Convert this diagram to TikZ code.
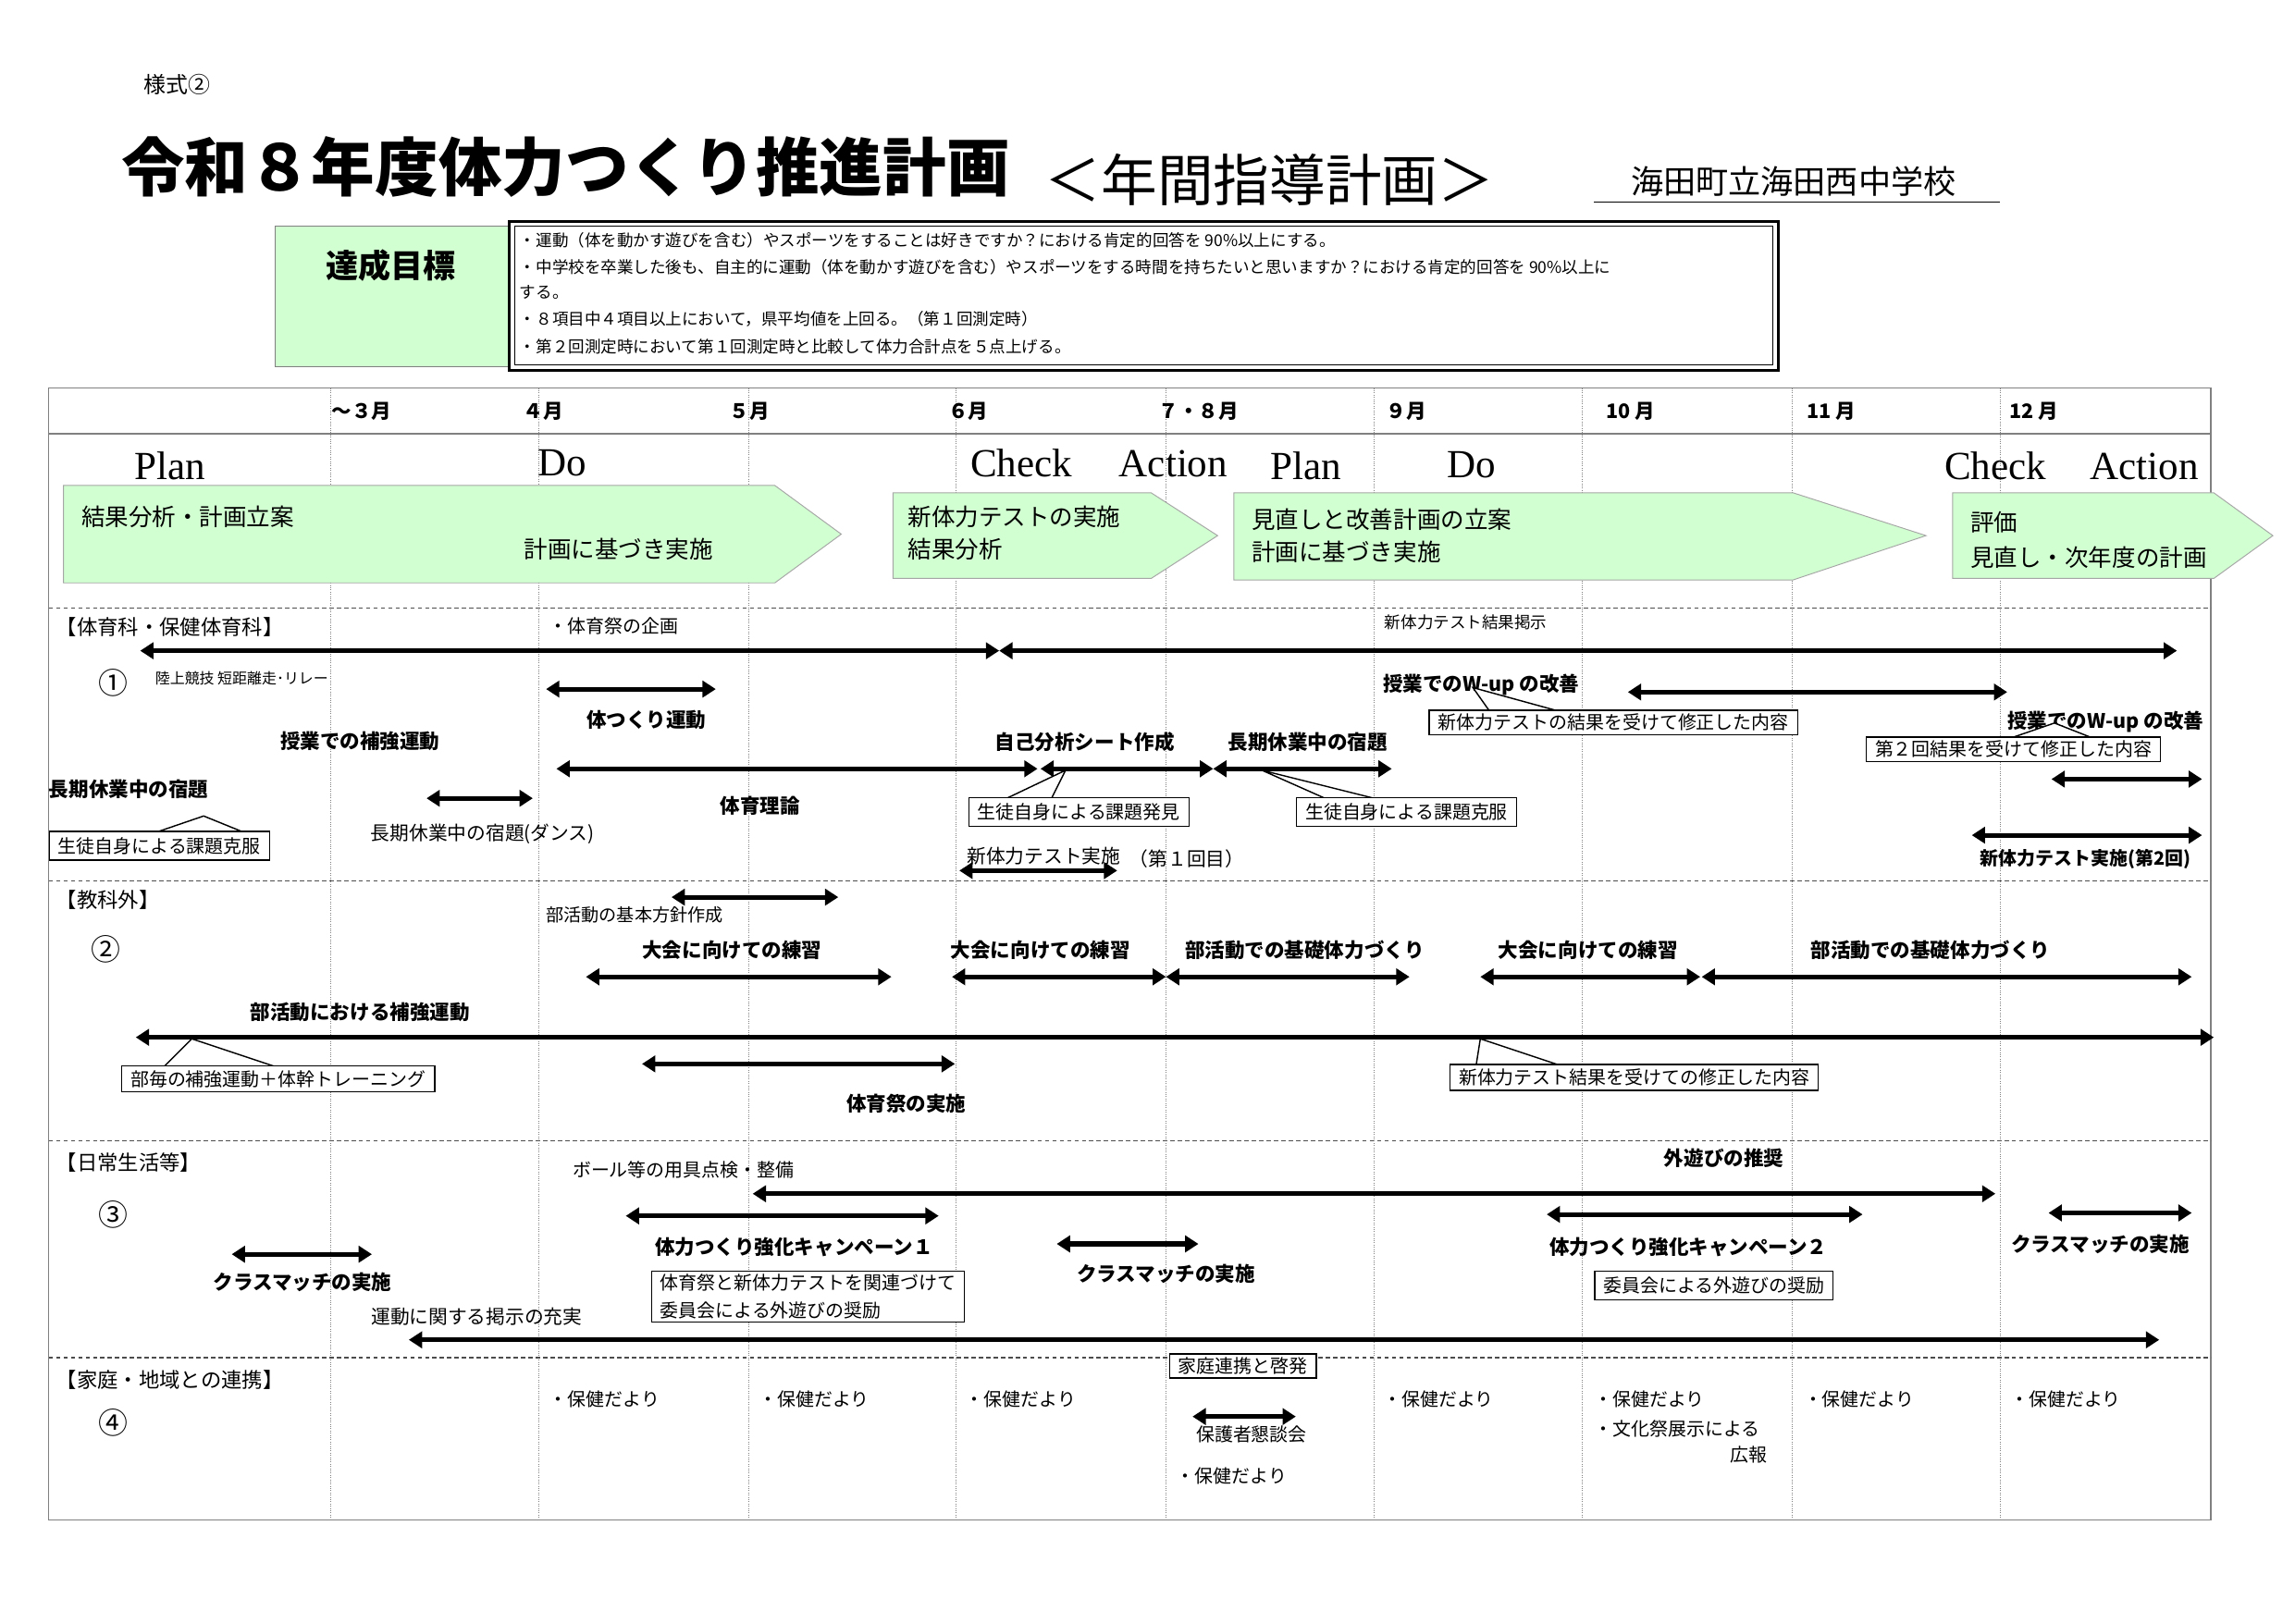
\documentclass[tikz,border=0pt]{standalone}
\usepackage{fontspec}
\setmainfont{Noto Sans CJK JP}
\newfontfamily\serifen{Liberation Serif}
\usetikzlibrary{arrows.meta}
\tikzset{
  tla/.style={line width=3.2pt,{Triangle[width=11pt,length=9pt]}-{Triangle[width=11pt,length=9pt]}},
  garrow/.style={draw=gray!70,fill=green!18,line width=0.6pt},
  sm/.style={font=\fontsize{11}{13}\selectfont,inner sep=0pt},
  md/.style={font=\fontsize{14}{16}\selectfont,inner sep=0pt},
  mdb/.style={font=\fontsize{13.5}{16}\selectfont\bfseries,inner sep=0pt},
  pdca/.style={font=\fontsize{27}{30}\selectfont\serifen,inner sep=0pt},
  arrtxt/.style={font=\fontsize{16}{18}\selectfont,inner sep=0pt,anchor=west},
  cbox/.style={draw,fill=white,line width=0.9pt,font=\fontsize{12.5}{14}\selectfont,inner xsep=6pt,inner ysep=4pt,anchor=north west,text depth=1pt},
  grid/.style={gray,densely dotted,line width=0.5pt},
  sect/.style={black!70,densely dashed,line width=0.8pt},
}
\newcommand{\tlar}[3]{\draw[tla] (#1,#3) -- (#2,#3);}
\newcommand{\ptr}[5]{\draw[fill=white,line width=0.9pt] (#1,#3) -- (#4,#5) -- (#2,#3);}
\begin{document}
\begin{tikzpicture}[x=1pt,y=-1pt]
\useasboundingbox[fill=white] (0,0) rectangle (1555,1100);
% header
\node[sm,font=\fontsize{15}{17}\selectfont] (style) at (120,57) {様式②};
\node[inner sep=0pt,anchor=west,font=\fontsize{43}{48}\selectfont\bfseries] (title) at (82,113) {令和８年度体力つくり推進計画};
\node[inner sep=0pt,anchor=west,font=\fontsize{38}{42}\selectfont] (sub) at (708,122) {＜年間指導計画＞};
\node[inner sep=0pt,anchor=west,font=\fontsize{22}{24}\selectfont] (school) at (1105,123) {海田町立海田西中学校};
\draw[line width=0.8pt] (1080,137) -- (1355,137);
% goals
\node[draw=gray,fill=green!18,minimum width=159pt,minimum height=95pt,anchor=north west,inner sep=0pt] (goalL) at (186,153) {};
\node[mdb,font=\fontsize{22}{24}\selectfont\bfseries] (goalT) at (265,180) {達成目標};
\draw[line width=1.8pt] (345,150) rectangle (1205,251);
\draw[line width=0.6pt] (349,153) rectangle (1201,247);
\begin{scope}[every node/.style={sm,anchor=west}]
\node (g1) at (352,163) {・運動（体を動かす遊びを含む）やスポーツをすることは好きですか？における肯定的回答を 90\%以上にする。};
\node (g2) at (352,181) {・中学校を卒業した後も、自主的に運動（体を動かす遊びを含む）やスポーツをする時間を持ちたいと思いますか？における肯定的回答を 90\%以上に};
\node (g3) at (352,198) {する。};
\node (g4) at (352,216) {・８項目中４項目以上において，県平均値を上回る。（第１回測定時）};
\node (g5) at (352,235) {・第２回測定時において第１回測定時と比較して体力合計点を５点上げる。};
\end{scope}
% table
\draw[line width=0.8pt,gray] (33,263) rectangle (1498,1030);
\draw[line width=0.8pt,gray] (33,294) -- (1498,294);
\foreach \x in {224,365,507,648,790,931,1072,1214,1355} \draw[grid] (\x,263) -- (\x,1030);
\foreach \y in {412,597,773,920} \draw[sect] (33,\y) -- (1498,\y);
\foreach \t/\x in {～３月/245,４月/368,５月/508,６月/656,７・８月/812,９月/953,10 月/1105,11 月/1241,12 月/1378}
  \node[mdb] at (\x,279) {\t};
% PDCA
\foreach \t/\x/\y in {Plan/115/316,Do/381/314,Check/692/314,Action/795/314,Plan/885/316,Do/997/315,Check/1352/316,Action/1453/316}
  \node[pdca] at (\x,\y) {\t};
\draw[garrow] (43,329) -- (525,329) -- (570,362) -- (525,395) -- (43,395) -- cycle;
\draw[garrow] (605,334) -- (780,334) -- (825,363) -- (780,392) -- (605,392) -- cycle;
\draw[garrow] (836,334) -- (1215,334) -- (1305,363) -- (1215,393) -- (836,393) -- cycle;
\draw[garrow] (1323,334) -- (1500,334) -- (1540,363) -- (1500,392) -- (1323,392) -- cycle;
\node[arrtxt] (a1) at (55,350) {結果分析・計画立案};
\node[arrtxt] (a2) at (355,372) {計画に基づき実施};
\node[arrtxt] (a3) at (615,350) {新体力テストの実施};
\node[arrtxt] (a4) at (615,372) {結果分析};
\node[arrtxt] (a5) at (848,352) {見直しと改善計画の立案};
\node[arrtxt] (a6) at (848,374) {計画に基づき実施};
\node[arrtxt] (a7) at (1335,354) {評価};
\node[arrtxt] (a8) at (1335,378) {見直し・次年度の計画};
% section 1
\node[md,anchor=west] (s1) at (38,425) {【体育科・保健体育科】};
\node[sm,font=\fontsize{12.5}{14}\selectfont,anchor=west] at (372,424) {・体育祭の企画};
\node[sm,anchor=west] at (938,422) {新体力テスト結果掲示};
\tlar{95}{677}{441}
\tlar{677}{1475}{441}
\node[md,font=\fontsize{20}{22}\selectfont] at (77,463) {①};
\node[sm,font=\fontsize{10}{12}\selectfont,anchor=west] at (105,460) {陸上競技\ 短距離走･リレー};
\tlar{370}{485}{467}
\node[mdb] at (438,488) {体つくり運動};
\node[mdb] at (244,502) {授業での補強運動};
\tlar{377}{703}{521}
\tlar{705}{822}{521}
\tlar{822}{943}{521}
\node[mdb] at (735,503) {自己分析シート作成};
\node[mdb] at (886,503) {長期休業中の宿題};
\node[mdb] at (515,546) {体育理論};
\node[mdb,anchor=west] at (33,535) {長期休業中の宿題};
\ptr{100}{170}{566}{138}{553}
\node[cbox] (c1) at (33,563) {生徒自身による課題克服};
\tlar{289}{361}{541}
\node[md,font=\fontsize{13}{15}\selectfont] at (327,565) {長期休業中の宿題(ダンス)};
\ptr{680}{712}{542}{722}{522}
\node[cbox] (c2) at (656,540) {生徒自身による課題発見};
\ptr{900}{935}{542}{855}{522}
\node[cbox] (c3) at (878,540) {生徒自身による課題克服};
\node[mdb,anchor=west] at (937,464) {授業でのW-up の改善};
\tlar{1103}{1360}{469}
\ptr{1010}{1060}{483}{998}{466}
\node[cbox,inner ysep=2.5pt] (c4) at (968,481) {新体力テストの結果を受けて修正した内容};
\node[mdb,anchor=west] at (1360,489) {授業でのW-up の改善};
\ptr{1360}{1420}{501}{1392}{490}
\node[cbox,inner ysep=2.5pt] (c5) at (1264,499) {第２回結果を受けて修正した内容};
\tlar{1390}{1492}{528}
\node[md,font=\fontsize{13}{15}\selectfont,anchor=west] at (655,580) {新体力テスト実施};
\node[md,font=\fontsize{13}{15}\selectfont,anchor=west] at (765,582) {（第１回目）};
\tlar{650}{757}{590}
\tlar{1336}{1492}{566}
\node[md,font=\fontsize{12.5}{14}\selectfont\bfseries] at (1413,582) {新体力テスト実施(第2回)};
% section 2
\node[md,anchor=west] (s2) at (38,610) {【教科外】};
\node[md,font=\fontsize{20}{22}\selectfont] at (72,643) {②};
\tlar{455}{568}{608}
\node[sm,font=\fontsize{12}{14}\selectfont] at (430,620) {部活動の基本方針作成};
\node[mdb] at (496,644) {大会に向けての練習};
\tlar{397}{604}{662}
\node[mdb] at (705,644) {大会に向けての練習};
\tlar{645}{790}{662}
\node[mdb] at (884,644) {部活動での基礎体力づくり};
\tlar{790}{955}{662}
\node[mdb] at (1076,644) {大会に向けての練習};
\tlar{1003}{1152}{662}
\node[mdb] at (1308,644) {部活動での基礎体力づくり};
\tlar{1153}{1485}{662}
\node[mdb] at (244,686) {部活動における補強運動};
\tlar{92}{1500}{703}
\ptr{110}{190}{724}{130}{704}
\node[cbox,inner ysep=3pt] (c6) at (82,722) {部毎の補強運動＋体幹トレーニング};
\tlar{435}{647}{721}
\node[mdb] at (614,748) {体育祭の実施};
\ptr{1000}{1060}{723}{1003}{704}
\node[cbox,inner ysep=3pt] (c7) at (982,721) {新体力テスト結果を受けての修正した内容};
% section 3
\node[md,anchor=west] (s3) at (38,788) {【日常生活等】};
\node[md,font=\fontsize{20}{22}\selectfont] at (77,823) {③};
\node[sm,font=\fontsize{12.5}{14}\selectfont] at (463,793) {ボール等の用具点検・整備};
\node[mdb] at (1168,785) {外遊びの推奨};
\tlar{510}{1352}{809}
\tlar{424}{636}{824}
\node[mdb] at (538,845) {体力つくり強化キャンペーン１};
\node[cbox,align=left,font=\fontsize{12.5}{19}\selectfont,inner ysep=2pt] (c8) at (441,861) {体育祭と新体力テストを関連づけて\\委員会による外遊びの奨励};
\tlar{716}{812}{843}
\node[mdb] at (790,863) {クラスマッチの実施};
\tlar{157}{252}{850}
\node[mdb] at (205,869) {クラスマッチの実施};
\tlar{1048}{1262}{823}
\node[mdb] at (1144,845) {体力つくり強化キャンペーン２};
\node[cbox] (c9) at (1080,861) {委員会による外遊びの奨励};
\tlar{1388}{1485}{822}
\node[mdb] at (1423,843) {クラスマッチの実施};
\node[md,font=\fontsize{13}{15}\selectfont] at (323,892) {運動に関する掲示の充実};
\tlar{277}{1463}{908}
% section 4
\node[md,anchor=west] (s4) at (38,935) {【家庭・地域との連携】};
\node[md,font=\fontsize{20}{22}\selectfont] at (77,964) {④};
\foreach \x in {372,514,654,937,1080,1222,1362}
  \node[sm,font=\fontsize{12.5}{14}\selectfont,anchor=west] at (\x,948) {・保健だより};
\node[sm,font=\fontsize{12.5}{14}\selectfont,anchor=west] at (1080,968) {・文化祭展示による};
\node[sm,font=\fontsize{12.5}{14}\selectfont] at (1185,986) {広報};
\node[cbox,inner ysep=2.5pt] (c10) at (792,917) {家庭連携と啓発};
\tlar{808}{878}{960}
\node[sm,font=\fontsize{12.5}{14}\selectfont] at (848,972) {保護者懇談会};
\node[sm,font=\fontsize{12.5}{14}\selectfont,anchor=west] at (797,1000) {・保健だより};
\end{tikzpicture}
\end{document}
